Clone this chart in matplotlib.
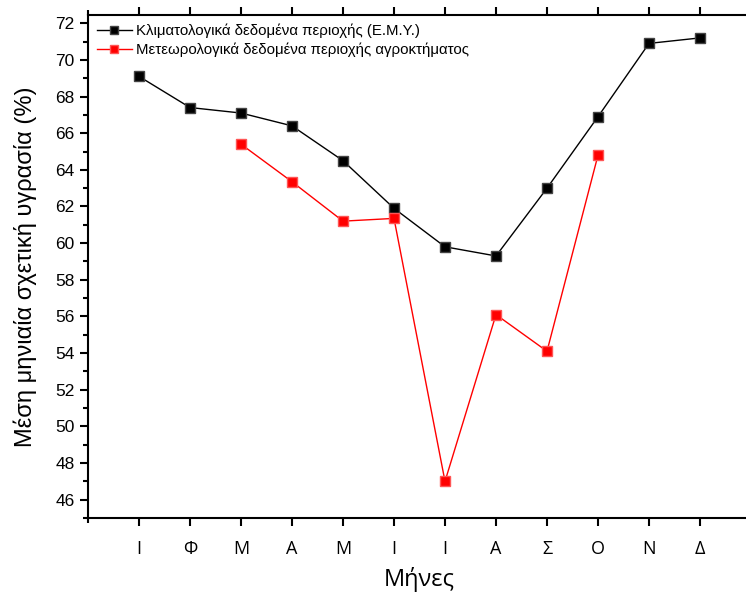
import numpy as np
import matplotlib
matplotlib.use('Agg')
from matplotlib import pyplot as plt
from matplotlib.ticker import MultipleLocator

plt.rcParams['font.family'] = ['Liberation Sans', 'DejaVu Sans']

months = ['Ι', 'Φ', 'Μ', 'Α', 'Μ', 'Ι', 'Ι', 'Α', 'Σ', 'Ο', 'Ν', 'Δ']
emy = [69.1, 67.4, 67.1, 66.4, 64.5, 61.9, 59.8, 59.3, 63.0, 66.9, 70.9, 71.2]
farm = [np.nan, np.nan, 65.4, 63.35, 61.2, 61.35, 47.0, 56.1, 54.1, 64.8, np.nan, np.nan]

label_emy = 'Κλιματολογικά δεδομένα περιοχής (Ε.Μ.Υ.)'
label_farm = 'Μετεωρολογικά δεδομένα περιοχής αγροκτήματος'

fig = plt.figure(figsize=(7.46, 5.94), dpi=100)
ax = fig.add_axes([88/746, 76/594, 663/746, 503/594])

xs = np.arange(1, len(months) + 1)
ax.plot(xs, emy, color='black', lw=1, marker='s', ms=7.5,
        mec='#444444', mfc='black', label=label_emy)
ax.plot(xs, farm, color='red', lw=1, marker='s', ms=7,
        mec='#ff5555', mfc='red', label=label_farm)

ax.set_xlim(0, 13)
ax.set_ylim(45, 72.45)
ax.set_xticks(xs)
ax.set_xticklabels(months, family=['Open Sans', 'DejaVu Sans'], fontsize=13)
ax.xaxis.set_minor_locator(MultipleLocator(1))
ax.yaxis.set_major_locator(MultipleLocator(2))
ax.yaxis.set_minor_locator(MultipleLocator(1))

for s in ax.spines.values():
    s.set_linewidth(1.5)
ax.spines['right'].set_visible(False)
ax.tick_params(axis='y', which='major', labelsize=12.5)
ax.tick_params(axis='both', which='major', width=1.5, length=6, direction='out')
ax.tick_params(axis='both', which='minor', width=1.5, length=3.5, direction='out')
ax.tick_params(axis='x', which='both', top=True)
ax.tick_params(axis='x', which='major', pad=10)

ax.set_xlabel('Μήνες', fontsize=17, family=['Open Sans', 'DejaVu Sans'], labelpad=6)
ax.set_ylabel('Μέση μηνιαία σχετική υγρασία (%)', fontsize=17, labelpad=13)

ax.legend(loc='upper left', frameon=False, fontsize=10.8, handlelength=2.3,
          handletextpad=0.3, borderaxespad=0.05, borderpad=0.55,
          labelspacing=0.25, markerscale=0.75)

fig.savefig('out.png', dpi=100)
